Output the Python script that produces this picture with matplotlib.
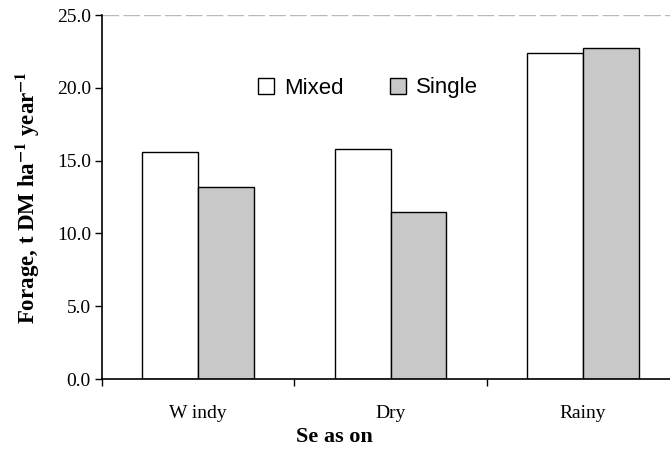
import numpy as np
import matplotlib.pyplot as plt

seasons = ['Windy', 'Dry', 'Rainy']
mixed = [15.6, 15.8, 22.4]
single = [13.2, 11.5, 22.7]
yticks = [0.0, 5.0, 10.0, 15.0, 20.0, 25.0]

plt.rcParams['mathtext.fontset'] = 'stix'

fig = plt.figure(figsize=(6.7, 4.53), dpi=100)
ax = fig.add_axes([102 / 670, 74 / 453, 577 / 670, 364 / 453])

x = np.arange(len(seasons))
w = 0.29
ax.bar(x - w / 2, mixed, w, color='white', edgecolor='black', linewidth=1.0, label='Mixed')
ax.bar(x + w / 2, single, w, color='#c8c8c8', edgecolor='black', linewidth=1.0, label='Single')

ax.set_xlim(-0.5, 2.5)
ax.set_ylim(0, 25)
ax.axhline(25, color='#b8b8b8', linewidth=1.0, linestyle=(0, (12, 3)))

ax.spines['top'].set_visible(False)
ax.spines['right'].set_visible(False)
ax.spines['left'].set_linewidth(1.2)
ax.spines['bottom'].set_linewidth(1.2)

ax.set_yticks(yticks)
ax.set_yticklabels(['%.1f' % v for v in yticks], family='Liberation Serif', fontsize=14)
ax.tick_params(axis='y', direction='out', length=5, width=1.0, pad=3)

ax.set_xticks([-0.5, 0.5, 1.5, 2.5])
ax.set_xticklabels([])
ax.tick_params(axis='x', which='major', direction='out', length=5, width=1.0)
ax.set_xticks(x, minor=True)
ax.set_xticklabels(['W indy', 'Dry', 'Rainy'], minor=True, family='Liberation Serif', fontsize=14)
ax.tick_params(axis='x', which='minor', length=0, pad=19)

ax.set_ylabel(r'Forage, t DM ha$^{\mathbf{-1}}$ year$^{\mathbf{-1}}$', family='Liberation Serif',
              fontsize=16.5, fontweight='bold')
ax.yaxis.set_label_coords(-(102 - 42) / 577, 0.5)
ax.set_xlabel('Se as on', family='Liberation Serif', fontsize=16, fontweight='bold')
ax.xaxis.set_label_coords((334 - 102) / 577, -(427 - 379) / 364)

ax.legend(loc='center', bbox_to_anchor=((368 - 102) / 577, (379 - 88) / 364), ncol=2,
          frameon=False, prop={'family': 'Liberation Sans', 'size': 16},
          handlelength=0.7, handleheight=0.7, handletextpad=0.45, columnspacing=2.1)

fig.savefig('out.png', dpi=100)
